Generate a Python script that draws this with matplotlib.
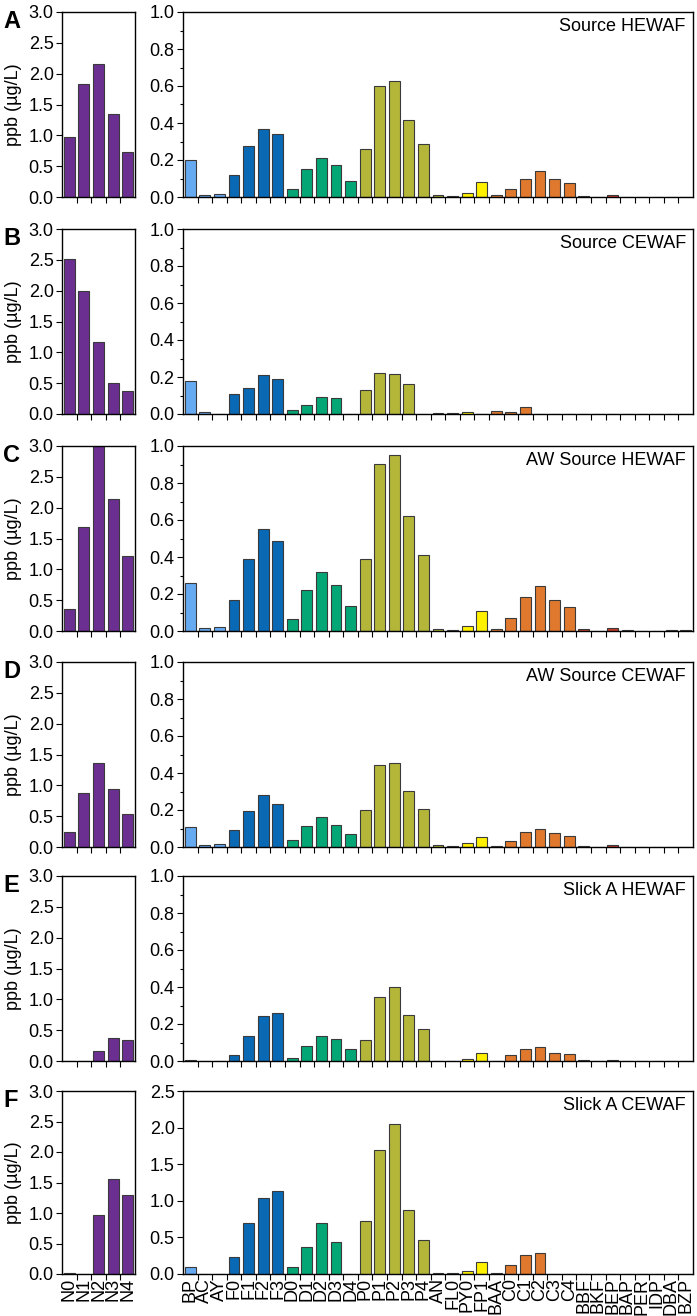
import matplotlib
matplotlib.use("Agg")
import matplotlib.pyplot as plt
from matplotlib.ticker import MultipleLocator, FixedLocator

plt.rcParams['font.family'] = ['Liberation Sans', 'DejaVu Sans']

# categories
naph_labels = ['N0', 'N1', 'N2', 'N3', 'N4']
pah_labels = ['BP', 'AC', 'AY', 'F0', 'F1', 'F2', 'F3', 'D0', 'D1', 'D2', 'D3', 'D4',
              'P0', 'P1', 'P2', 'P3', 'P4', 'AN', 'FL0', 'PY0', 'FP1', 'BAA',
              'C0', 'C1', 'C2', 'C3', 'C4', 'BBF', 'BKF', 'BEP', 'BAP', 'PER',
              'IDP', 'DBA', 'BZP']
# colour group of each pah category
pah_groups = ['lb', 'lb', 'lb', 'f', 'f', 'f', 'f', 'd', 'd', 'd', 'd', 'd',
              'p', 'p', 'p', 'p', 'p', 'p', 'p', 'y', 'y', 'o',
              'o', 'o', 'o', 'o', 'o', 'r', 'r', 'r', 'r', 'r',
              'r', 'r', 'r']

panel_letters = ['A', 'B', 'C', 'D', 'E', 'F']
panel_titles = ['Source HEWAF', 'Source CEWAF', 'AW Source HEWAF',
                'AW Source CEWAF', 'Slick A HEWAF', 'Slick A CEWAF']

# values (ppb)
naph_a = [0.98, 1.84, 2.15, 1.34, 0.73]
naph_b = [2.52, 2.00, 1.17, 0.50, 0.37]
naph_c = [0.35, 1.68, 3.00, 2.14, 1.21]
naph_d = [0.25, 0.88, 1.36, 0.94, 0.53]
naph_e = [0.0, 0.0, 0.16, 0.38, 0.34]
naph_f = [0.02, 0.0, 0.97, 1.56, 1.29]

pah_a = [0.20, 0.012, 0.018, 0.12, 0.275, 0.366, 0.34, 0.045, 0.152, 0.21, 0.173, 0.089,
         0.262, 0.60, 0.625, 0.414, 0.284, 0.01, 0.005, 0.02, 0.082, 0.009,
         0.043, 0.098, 0.141, 0.098, 0.077, 0.005, 0.0, 0.01, 0.0, 0.0,
         0.0, 0.0, 0.0]
pah_b = [0.18, 0.01, 0.0, 0.11, 0.14, 0.21, 0.19, 0.02, 0.05, 0.09, 0.085, 0.0,
         0.13, 0.22, 0.215, 0.16, 0.0, 0.005, 0.005, 0.01, 0.0, 0.015,
         0.01, 0.04, 0.0, 0.0, 0.0, 0.0, 0.0, 0.0, 0.0, 0.0,
         0.0, 0.0, 0.0]
pah_c = [0.262, 0.016, 0.023, 0.17, 0.388, 0.553, 0.487, 0.066, 0.223, 0.321, 0.246, 0.135,
         0.388, 0.903, 0.95, 0.621, 0.411, 0.013, 0.007, 0.027, 0.108, 0.011,
         0.072, 0.183, 0.242, 0.17, 0.131, 0.009, 0.0, 0.016, 0.004, 0.0,
         0.0, 0.004, 0.004]
pah_d = [0.108, 0.009, 0.016, 0.092, 0.193, 0.282, 0.235, 0.036, 0.116, 0.164, 0.121, 0.07,
         0.20, 0.444, 0.453, 0.305, 0.208, 0.009, 0.007, 0.02, 0.054, 0.007,
         0.034, 0.081, 0.099, 0.076, 0.06, 0.007, 0.0, 0.011, 0.002, 0.0,
         0.0, 0.002, 0.002]
pah_e = [0.005, 0.0, 0.0, 0.033, 0.136, 0.244, 0.262, 0.016, 0.08, 0.134, 0.118, 0.067,
         0.116, 0.344, 0.401, 0.248, 0.172, 0.0, 0.0, 0.013, 0.043, 0.0,
         0.033, 0.067, 0.074, 0.043, 0.036, 0.005, 0.0, 0.005, 0.0, 0.0,
         0.0, 0.0, 0.0]
pah_f = [0.09, 0.0, 0.0, 0.234, 0.69, 1.04, 1.14, 0.10, 0.37, 0.70, 0.436, 0.0,
         0.725, 1.69, 2.05, 0.87, 0.47, 0.018, 0.014, 0.04, 0.16, 0.018,
         0.124, 0.257, 0.29, 0.0, 0.0, 0.0, 0.0, 0.0, 0.0, 0.0,
         0.0, 0.0, 0.0]

naph_rows = [naph_a, naph_b, naph_c, naph_d, naph_e, naph_f]
pah_rows = [pah_a, pah_b, pah_c, pah_d, pah_e, pah_f]

# style
group_colors = {'lb': '#66aaf2', 'f': '#0a69b4', 'd': '#05a676', 'p': '#b4b639',
                'y': '#fff000', 'o': '#e0792e', 'r': '#c93a2b'}
naph_color = '#6b2f91'
edge = '#3a3a3a'

W, H = 697, 1316
fig = plt.figure(figsize=(W / 100, H / 100), dpi=100)


def add_ax(x0, y0, x1, y1):
    return fig.add_axes([x0 / W, 1 - y1 / H, (x1 - x0) / W, (y1 - y0) / H])


def style_axis(ax, n, labels, show_labels):
    ax.set_xlim(-0.5, n - 0.5)
    ax.xaxis.set_major_locator(FixedLocator(range(n)))
    ax.xaxis.set_minor_locator(FixedLocator([i + 0.5 for i in range(n - 1)]))
    if show_labels:
        ax.set_xticklabels(labels, rotation=90, fontsize=13)
    else:
        ax.set_xticklabels([])
    ax.tick_params(axis='x', which='major', length=0, pad=3)
    ax.tick_params(axis='x', which='minor', length=4, width=0.8, direction='out')
    ax.tick_params(axis='y', which='major', length=4, width=0.8, direction='out',
                   labelsize=13, pad=2)
    ax.tick_params(axis='y', which='minor', length=2.5, width=0.8, direction='out')
    for s in ax.spines.values():
        s.set_linewidth(1.0)


tops = [12, 229, 446, 662, 876, 1091]
heights = [185, 185, 185, 185, 185, 183]

for i in range(6):
    top = tops[i]
    bot = top + heights[i]
    last = i == 5

    # naphthalenes
    axl = add_ax(62, top, 135, bot)
    axl.bar(range(len(naph_labels)), naph_rows[i], width=0.75, color=naph_color,
            edgecolor=edge, linewidth=0.8)
    axl.set_ylim(0, 3.0)
    axl.yaxis.set_major_locator(MultipleLocator(0.5))
    axl.yaxis.set_major_formatter(plt.FormatStrFormatter('%.1f'))
    style_axis(axl, len(naph_labels), naph_labels, last)

    # other PAHs
    axr = add_ax(183, top, 693, bot)
    cols = [group_colors[g] for g in pah_groups]
    axr.bar(range(len(pah_labels)), pah_rows[i], width=0.75, color=cols,
            edgecolor=edge, linewidth=0.8)
    if last:
        axr.set_ylim(0, 2.5)
        axr.yaxis.set_major_locator(MultipleLocator(0.5))
    else:
        axr.set_ylim(0, 1.0)
        axr.yaxis.set_major_locator(MultipleLocator(0.2))
        axr.yaxis.set_minor_locator(MultipleLocator(0.1))
    axr.yaxis.set_major_formatter(plt.FormatStrFormatter('%.1f'))
    style_axis(axr, len(pah_labels), pah_labels, last)
    axr.text(0.986, 0.965, panel_titles[i], transform=axr.transAxes,
             ha='right', va='top', fontsize=13)

    fig.text(3 / W, 1 - (top + 16) / H, panel_letters[i], fontsize=17,
             fontweight='bold', ha='left', va='baseline')
    fig.text(13 / W, 1 - (top + heights[i] / 2) / H, 'ppb (µg/L)', rotation=90,
             ha='center', va='center', fontsize=13)

fig.savefig('out.png', dpi=100)
